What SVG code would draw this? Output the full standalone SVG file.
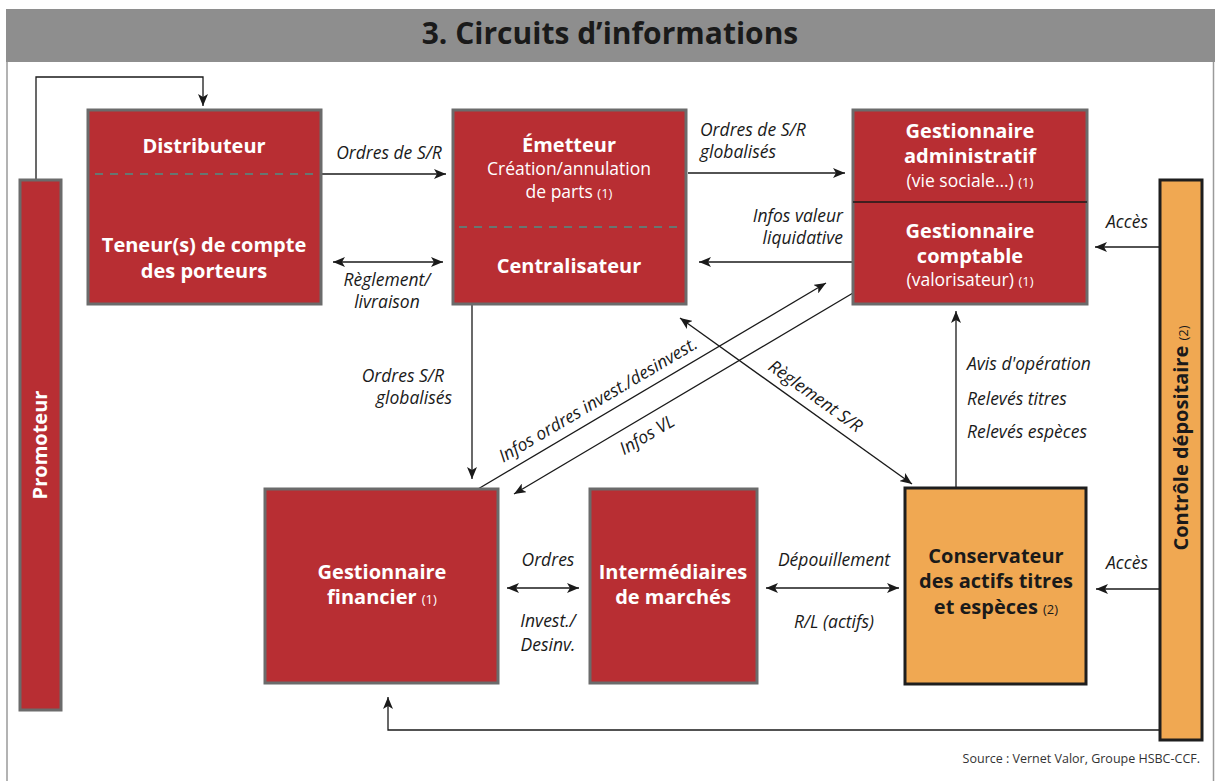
<svg xmlns="http://www.w3.org/2000/svg" width="1215" height="781" viewBox="0 0 1215 781">
<defs>
<style>
.t{font-family:"Open Sans","Liberation Sans",sans-serif}
.red{fill:#b82e33;stroke:#6b6b6b;stroke-width:3}
.org{fill:#f0a852;stroke:#1e1e1e;stroke-width:3}
.wb{fill:#fff;font-weight:bold;font-size:20px;text-anchor:middle}
.wr{fill:#fff;font-size:17.5px;text-anchor:middle}
.kb{fill:#1a1a1a;font-weight:bold;font-size:20px;text-anchor:middle}
.sm{font-size:13px;font-weight:normal}
.lab{font-style:italic;font-size:17.5px;fill:#1a1a1a}
.c{stroke:#1a1a1a;stroke-width:1.3;fill:none}
.dash{stroke:#4d8f86;stroke-width:1.5;stroke-dasharray:8 7}
</style>
<marker id="ah" viewBox="0 0 12 10" refX="12" refY="5" markerWidth="12" markerHeight="10" markerUnits="userSpaceOnUse" orient="auto-start-reverse">
<path d="M0,0 L12,5 L0,10 L3,5 z" fill="#1a1a1a"/>
</marker>
</defs>
<rect x="0" y="0" width="1215" height="781" fill="#fff"/>
<g id="frame">
<rect x="6" y="9" width="1209" height="53" fill="#8e8e8e"/>
<line x1="7" y1="62" x2="7" y2="781" stroke="#9a9a9a" stroke-width="1.5"/>
<line x1="1213.5" y1="62" x2="1213.5" y2="781" stroke="#9a9a9a" stroke-width="1.5"/>
<text class="t" x="610" y="44" text-anchor="middle" font-size="30" font-weight="bold" fill="#1a1a1a">3. Circuits d’informations</text>
</g>
<g id="connectors">
<polyline class="c" points="36,180 36,77 203,77 203,106" marker-end="url(#ah)"/>
<line class="c" x1="322" y1="174" x2="446" y2="174" marker-end="url(#ah)"/>
<line class="c" x1="333" y1="262" x2="443" y2="262" marker-start="url(#ah)" marker-end="url(#ah)"/>
<line class="c" x1="688" y1="173" x2="845" y2="173" marker-end="url(#ah)"/>
<line class="c" x1="853" y1="262" x2="699" y2="262" marker-end="url(#ah)"/>
<line class="c" x1="1159" y1="247" x2="1095" y2="247" marker-end="url(#ah)"/>
<line class="c" x1="472" y1="305" x2="472" y2="479" marker-end="url(#ah)"/>
<line class="c" x1="956" y1="487" x2="956" y2="311" marker-end="url(#ah)"/>
<line class="c" x1="507" y1="588" x2="579" y2="588" marker-start="url(#ah)" marker-end="url(#ah)"/>
<line class="c" x1="766" y1="588" x2="899" y2="588" marker-start="url(#ah)" marker-end="url(#ah)"/>
<line class="c" x1="1159" y1="589" x2="1096" y2="589" marker-end="url(#ah)"/>
<polyline class="c" points="1159,730 388,730 388,697" marker-end="url(#ah)"/>
<line class="c" x1="478" y1="489" x2="826" y2="283" marker-end="url(#ah)"/>
<line class="c" x1="853" y1="293" x2="514" y2="494" marker-end="url(#ah)"/>
<line class="c" x1="680" y1="318" x2="912" y2="484" marker-start="url(#ah)" marker-end="url(#ah)"/>
<g class="t lab">
<text x="389" y="159" text-anchor="middle">Ordres de S/R</text>
<text x="387" y="286" text-anchor="middle">Règlement/</text>
<text x="387" y="308" text-anchor="middle">livraison</text>
<text x="700" y="136">Ordres de S/R</text>
<text x="700" y="158">globalisés</text>
<text x="843" y="222" text-anchor="end">Infos valeur</text>
<text x="843" y="244" text-anchor="end">liquidative</text>
<text x="1148" y="228" text-anchor="end">Accès</text>
<text x="444" y="382" text-anchor="end">Ordres S/R</text>
<text x="452" y="404" text-anchor="end">globalisés</text>
<text x="967" y="370">Avis d'opération</text>
<text x="967" y="405">Relevés titres</text>
<text x="967" y="438">Relevés espèces</text>
<text x="548" y="566" text-anchor="middle">Ordres</text>
<text x="548" y="627" text-anchor="middle">Invest./</text>
<text x="548" y="651" text-anchor="middle">Desinv.</text>
<text x="834" y="566" text-anchor="middle">Dépouillement</text>
<text x="834" y="628" text-anchor="middle">R/L (actifs)</text>
<text x="1148" y="569" text-anchor="end">Accès</text>
<text x="601" y="405" text-anchor="middle" transform="rotate(-30.6 601 405)">Infos ordres invest./desinvest.</text>
<text x="650" y="440" text-anchor="middle" transform="rotate(-30.6 650 440)">Infos VL</text>
<text x="812" y="401" text-anchor="middle" transform="rotate(35.4 812 401)">Règlement S/R</text>
</g>
</g>
<g id="promoteur">
<rect class="red" x="20" y="180" width="41" height="530"/>
<text class="t wb" x="40" y="452" font-size="19" transform="rotate(-90 40 445)">Promoteur</text>
</g>
<g id="distributeur">
<rect class="red" x="88" y="110" width="233" height="194"/>
<line class="dash" x1="95" y1="174" x2="313" y2="174"/>
<text class="t wb" x="204" y="153">Distributeur</text>
<text class="t wb" x="204" y="252">Teneur(s) de compte</text>
<text class="t wb" x="204" y="278">des porteurs</text>
</g>
<g id="emetteur">
<rect class="red" x="453" y="110" width="233" height="194"/>
<line class="dash" x1="459" y1="227" x2="678" y2="227"/>
<text class="t wb" x="569" y="152">Émetteur</text>
<text class="t wr" x="569" y="175">Création/annulation</text>
<text class="t wr" x="569" y="198">de parts <tspan class="sm">(1)</tspan></text>
<text class="t wb" x="569" y="273">Centralisateur</text>
</g>
<g id="gestionnaire-admin-comptable">
<rect class="red" x="853" y="110" width="234" height="194"/>
<line x1="853" y1="202" x2="1087" y2="202" stroke="#1a1a1a" stroke-width="1.5"/>
<text class="t wb" x="970" y="138">Gestionnaire</text>
<text class="t wb" x="970" y="163">administratif</text>
<text class="t wr" x="970" y="187">(vie sociale…) <tspan class="sm">(1)</tspan></text>
<text class="t wb" x="970" y="238">Gestionnaire</text>
<text class="t wb" x="970" y="263">comptable</text>
<text class="t wr" x="970" y="286">(valorisateur) <tspan class="sm">(1)</tspan></text>
</g>
<g id="controle">
<rect class="org" x="1160" y="180" width="42" height="560"/>
<text class="t kb" x="1181" y="445" transform="rotate(-90 1181 438)">Contrôle dépositaire <tspan class="sm">(2)</tspan></text>
</g>
<g id="gestionnaire-financier">
<rect class="red" x="265" y="489" width="233" height="194"/>
<text class="t wb" x="382" y="579">Gestionnaire</text>
<text class="t wb" x="382" y="604">financier <tspan class="sm">(1)</tspan></text>
</g>
<g id="intermediaires">
<rect class="red" x="590" y="489" width="167" height="194"/>
<text class="t wb" x="673" y="579">Intermédiaires</text>
<text class="t wb" x="673" y="604">de marchés</text>
</g>
<g id="conservateur">
<rect class="org" x="905" y="488" width="181" height="196"/>
<text class="t kb" x="996" y="563">Conservateur</text>
<text class="t kb" x="996" y="588">des actifs titres</text>
<text class="t kb" x="996" y="614">et espèces <tspan class="sm">(2)</tspan></text>
</g>
<text class="t" x="1200" y="763" text-anchor="end" font-size="12.5" fill="#333">Source : Vernet Valor, Groupe HSBC-CCF.</text>
</svg>
